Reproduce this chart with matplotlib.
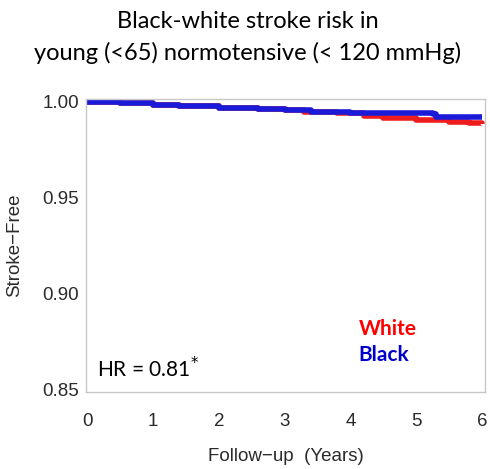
import matplotlib.pyplot as plt

# Kaplan-Meier style step curves, stroke-free proportion by follow-up year
white_t = [0, 0.5, 1.0, 1.4, 2.0, 2.6, 3.0, 3.3, 3.8, 4.2, 4.5, 5.0, 5.5, 5.8, 6.0]
white_s = [1.000, 0.9995, 0.9985, 0.9978, 0.9970, 0.9962, 0.9955, 0.9948, 0.9940, 0.9928, 0.9915, 0.9905, 0.9897, 0.9888, 0.9885]
black_t = [0, 0.5, 1.0, 1.4, 2.0, 2.6, 3.0, 3.4, 4.0, 4.7, 5.25, 5.3, 6.0]
black_s = [1.000, 0.9995, 0.9985, 0.9978, 0.9970, 0.9963, 0.9955, 0.9948, 0.9943, 0.9940, 0.9935, 0.9922, 0.9920]

hr_text = "HR = 0.81$^{*}$"
x_ticks = [0, 1, 2, 3, 4, 5, 6]
y_ticks = [0.85, 0.90, 0.95, 1.00]

fig = plt.figure(figsize=(4.9, 4.69), dpi=100)
ax = fig.add_axes([0.1755, 0.164, 0.815, 0.625])

ax.step(white_t, white_s, where="post", color="#ee1c1c", lw=4, solid_capstyle="butt")
ax.step(black_t, black_s, where="post", color="#1a1ad8", lw=4, solid_capstyle="butt")

ax.set_xlim(-0.02, 6.05)
ax.set_ylim(0.8485, 1.0015)
ax.set_xticks(x_ticks)
ax.set_yticks(y_ticks)
ax.set_yticklabels(["%.2f" % v for v in y_ticks])

lab_font = ["Liberation Sans", "DejaVu Sans"]
for lab in ax.get_xticklabels() + ax.get_yticklabels():
    lab.set_family(lab_font)
    lab.set_fontsize(13.5)
    lab.set_color("#2a2a2a")
ax.tick_params(length=0)
ax.tick_params(axis="x", pad=15)
ax.tick_params(axis="y", pad=5)

for sp in ax.spines.values():
    sp.set_color("#c8c8c8")
    sp.set_linewidth(1.0)

ax.set_ylabel("Stroke\u2212Free", family=lab_font, fontsize=13.5, color="#2a2a2a", labelpad=14)
ax.set_xlabel("Follow\u2212up  (Years)", family=lab_font, fontsize=13.5, color="#2a2a2a", labelpad=13)

ax.text(0.15, 0.8565, hr_text, family=["Lato", "DejaVu Sans"], fontsize=15, color="black")
ax.text(4.12, 0.8785, "White", family=["Lato", "DejaVu Sans"], fontsize=15,
        fontweight="bold", color="#ff0000", ha="left")
ax.text(4.12, 0.8645, "Black", family=["Lato", "DejaVu Sans"], fontsize=15,
        fontweight="bold", color="#0000cc", ha="left")

fig.text(0.505, 0.955, "Black-white stroke risk in", family=["Lato", "DejaVu Sans"],
         fontsize=17, ha="center", va="center")
fig.text(0.505, 0.887, "young (<65) normotensive (< 120 mmHg)", family=["Lato", "DejaVu Sans"],
         fontsize=17, ha="center", va="center")

fig.savefig("out.png", dpi=100)
